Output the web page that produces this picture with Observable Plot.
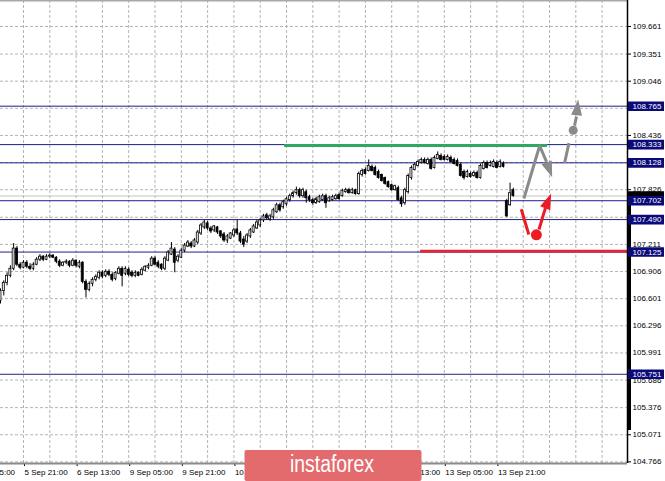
<!DOCTYPE html>
<html><head><meta charset="utf-8">
<script src="https://cdn.jsdelivr.net/npm/d3@7"></script>
<script src="https://cdn.jsdelivr.net/npm/@observablehq/plot@0.6"></script>
<style>html,body{margin:0;padding:0;background:#fff;} #chart svg{display:block}</style>
</head><body><div id="chart"></div>
<script>
// H1 candles, index 0 = first visible bar
const opens=[
106.575,106.688,106.779,106.858,106.937,107.164,106.983,106.949,107.005,106.960,
106.937,106.983,107.039,107.073,107.039,107.073,107.085,107.062,107.017,106.971,
107.005,107.017,106.971,107.028,106.960,107.005,106.790,106.700,106.768,106.813,
106.836,106.892,106.858,106.903,106.869,106.824,106.881,106.937,106.881,106.926,
106.892,106.858,106.892,106.869,106.915,106.949,106.971,107.051,107.005,106.983,
106.937,107.028,107.096,107.153,107.028,107.062,107.141,107.187,107.221,107.187,
107.232,107.334,107.402,107.447,107.390,107.368,107.402,107.357,107.323,107.255,
107.277,107.311,107.379,107.334,107.266,107.243,107.300,107.345,107.390,107.424,
107.481,107.538,107.492,107.515,107.572,107.651,107.628,107.662,107.708,107.753,
107.787,107.821,107.753,107.798,107.742,107.708,107.674,107.685,107.708,107.753,
107.696,107.708,107.719,107.764,107.753,107.798,107.821,107.787,107.821,107.776,
107.991,108.047,108.036,108.081,108.070,108.025,107.991,107.957,107.911,107.877,
107.821,107.843,107.730,107.674,107.798,107.957,108.047,108.093,108.127,108.161,
108.115,108.161,108.070,108.172,108.206,108.195,108.161,108.183,108.161,108.149,
108.104,108.025,107.968,108.002,107.979,108.013,107.957,108.059,108.127,108.093,
108.081,108.127,108.081,108.115,107.696,107.651,107.821];
const highs=[
106.711,106.802,106.892,106.971,107.221,107.187,107.005,107.028,107.028,106.994,
107.005,107.062,107.096,107.085,107.096,107.107,107.096,107.073,107.039,107.017,
107.039,107.028,107.051,107.039,107.028,107.017,106.813,106.790,106.836,106.869,
106.915,106.915,106.926,106.926,106.892,106.903,106.960,106.960,106.960,106.949,
106.915,106.915,106.903,106.949,106.971,106.994,107.073,107.073,107.028,106.994,
107.073,107.141,107.232,107.175,107.096,107.164,107.221,107.255,107.243,107.277,
107.368,107.447,107.481,107.470,107.413,107.424,107.413,107.368,107.345,107.323,
107.345,107.390,107.481,107.357,107.300,107.334,107.390,107.436,107.481,107.504,
107.549,107.560,107.549,107.617,107.674,107.674,107.708,107.742,107.776,107.810,
107.855,107.843,107.843,107.821,107.764,107.730,107.742,107.764,107.776,107.776,
107.753,107.764,107.776,107.787,107.832,107.843,107.843,107.843,107.832,108.025,
108.059,108.070,108.161,108.104,108.093,108.047,108.002,107.968,107.923,107.889,
107.877,107.866,107.753,107.843,108.002,108.093,108.127,108.161,108.183,108.183,
108.183,108.183,108.206,108.251,108.229,108.217,108.217,108.206,108.183,108.172,
108.127,108.047,108.047,108.025,108.036,108.036,108.115,108.149,108.149,108.149,
108.161,108.149,108.161,108.138,107.719,107.900,107.843];
const lows=[
106.541,106.632,106.745,106.836,106.915,106.960,106.926,106.937,106.937,106.915,
106.915,106.971,107.017,107.017,107.028,107.051,107.051,106.994,106.949,106.960,
106.983,106.949,106.960,106.949,106.937,106.768,106.609,106.677,106.734,106.790,
106.813,106.824,106.836,106.847,106.790,106.802,106.869,106.734,106.858,106.847,
106.836,106.836,106.847,106.858,106.903,106.926,106.960,106.971,106.937,106.915,
106.915,107.017,107.085,106.892,107.005,107.051,107.119,107.175,107.164,107.175,
107.209,107.311,107.379,107.368,107.334,107.345,107.323,107.277,107.232,107.221,
107.266,107.289,107.311,107.221,107.175,107.221,107.277,107.334,107.379,107.402,
107.458,107.481,107.470,107.492,107.560,107.572,107.606,107.640,107.685,107.730,
107.764,107.730,107.730,107.674,107.685,107.651,107.662,107.674,107.696,107.617,
107.685,107.696,107.708,107.708,107.742,107.787,107.776,107.776,107.764,107.764,
107.968,107.991,108.025,108.025,107.979,107.945,107.911,107.877,107.843,107.810,
107.810,107.696,107.628,107.651,107.776,107.934,108.036,108.081,108.115,108.115,
108.104,108.047,108.059,108.161,108.149,108.149,108.149,108.127,108.104,108.081,
107.968,107.934,107.957,107.957,107.968,107.945,107.945,108.047,108.059,108.081,
108.070,108.059,108.070,108.070,107.515,107.640,107.742];
const closes=[
106.688,106.779,106.858,106.937,107.164,106.983,106.949,107.005,106.960,106.937,
106.983,107.039,107.073,107.039,107.073,107.085,107.062,107.017,106.971,107.005,
107.017,106.971,107.028,106.971,107.005,106.790,106.700,106.768,106.813,106.847,
106.892,106.847,106.903,106.869,106.813,106.892,106.937,106.858,106.937,106.869,
106.858,106.892,106.858,106.926,106.960,106.971,107.051,106.983,106.960,106.937,
107.051,107.119,107.164,107.005,107.073,107.141,107.198,107.232,107.187,107.255,
107.345,107.424,107.458,107.390,107.357,107.413,107.345,107.300,107.255,107.300,
107.334,107.368,107.334,107.243,107.209,107.311,107.368,107.413,107.458,107.481,
107.526,107.504,107.526,107.594,107.651,107.594,107.685,107.719,107.753,107.787,
107.821,107.753,107.821,107.730,107.708,107.674,107.719,107.742,107.753,107.674,
107.730,107.742,107.753,107.719,107.810,107.821,107.787,107.821,107.776,108.002,
108.036,108.002,108.093,108.036,107.991,107.957,107.923,107.889,107.855,107.821,
107.866,107.708,107.662,107.821,107.979,108.070,108.104,108.138,108.161,108.127,
108.161,108.059,108.183,108.217,108.161,108.161,108.195,108.138,108.115,108.093,
107.979,107.957,108.025,107.968,108.013,107.957,108.093,108.127,108.070,108.127,
108.138,108.070,108.138,108.081,107.526,107.787,107.755];

// time axis (bar index of each label)
const timeTickIndex=[-9,7,23,39,55,71,87,103,119,135,151];
const timeTickLabels=["5 Sep 05:00","5 Sep 21:00","6 Sep 13:00","9 Sep 05:00","9 Sep 21:00","10 Sep 13:00","11 Sep 05:00","11 Sep 21:00","12 Sep 13:00","13 Sep 05:00","13 Sep 21:00"];
// price axis: grid levels, and the labels that are not hidden behind level boxes
const priceGrid=[109.661,109.351,109.046,108.741,108.436,108.131,107.826,107.516,107.211,106.906,106.601,106.296,105.991,105.686,105.376,105.071,104.766];
const priceLabels=[109.661,109.351,109.046,108.436,107.826,107.211,106.906,106.601,106.296,105.991,105.686,105.376,105.071,104.766];
const levels=[108.765,108.333,108.128,107.702,107.490,107.125,105.751];
const bid=107.755;
const greenLevel=[{p:108.323,from:86.4,to:166.4}];
const redLevel=[{p:107.133,from:127.8,to:190.72}];
// forecast drawings (bar index, price)
const grayPaths=[
  {g:"a",i:159.2,p:107.727},{g:"a",i:164.0,p:108.320},{g:"a",i:166.1,p:108.138},
  {g:"b",i:171.6,p:108.127},{g:"b",i:172.9,p:108.350},
  {g:"c",i:174.6,p:108.546},{g:"c",i:175.2,p:108.648}];
const redPaths=[
  {g:"d",i:158.4,p:107.606},{g:"d",i:160.7,p:107.323},
  {g:"e",i:163.8,p:107.379},{g:"e",i:165.8,p:107.628}];
const grayDots=[{i:174.2,p:108.493}];
const redDots=[{i:163.0,p:107.319}];
const grayHeads=[{i:167.8,p:107.965,fi:166.1,fp:108.138},{i:175.7,p:108.841,fi:175.2,fp:108.648}];
const redHeads=[{i:167.5,p:107.784,fi:165.8,fp:107.628}];

const bars=opens.map((o,i)=>({i,open:o,high:highs[i],low:lows[i],close:closes[i]}));
const xOpts={domain:[0,190.72],range:[0,627]};
const yOpts={domain:[104.748,109.953],range:[463,0]};
const sx=Plot.scale({x:xOpts}), sy=Plot.scale({y:yOpts});
function withRot(arr){return arr.map(d=>{const dx=sx.apply(d.i)-sx.apply(d.fi);const dy=sy.apply(d.p)-sy.apply(d.fp);return {...d,rot:Math.atan2(dx,-dy)*180/Math.PI};});}
const headSym={draw(c){c.moveTo(0,0);c.lineTo(-5.5,16);c.lineTo(5.5,16);c.closePath();}};
const boxSym={draw(c){c.rect(-18,-4.8,36,9.6);}};
const labMap=new Map(timeTickIndex.map((t,k)=>[t,timeTickLabels[k]]));
const navy="#1e1e8c", boxNavy="#0a0a78", gray="#8a8a8a", red="#ec1c24";

const chart=Plot.plot({
  width:665,height:481,marginLeft:0,marginRight:38,marginTop:0,marginBottom:18,
  x:xOpts,y:yOpts,
  style:{fontFamily:"Liberation Sans, Arial, sans-serif",fontSize:"8px",background:"white",color:"black",overflow:"visible"},
  marks:[
    Plot.gridY(priceGrid,{stroke:"#b4b4b4",strokeOpacity:1,strokeDasharray:"3,2"}),
    Plot.gridX(d3.range(-1,190,8),{stroke:"#b4b4b4",strokeOpacity:1,strokeDasharray:"3,2"}),
    Plot.ruleY([bid],{stroke:"#c4c4c4",strokeWidth:1}),
    Plot.ruleY(levels,{stroke:navy,strokeWidth:1}),
    Plot.ruleY(greenLevel,{y:"p",x1:"from",x2:"to",stroke:"#2fa863",strokeWidth:3}),
    Plot.ruleY(redLevel,{y:"p",x1:"from",x2:"to",stroke:"#e0283a",strokeWidth:3}),
    Plot.ruleX(bars,{x:"i",y1:"low",y2:"high",stroke:"black",strokeWidth:1}),
    Plot.rect(bars,{filter:d=>d.close>=d.open,x1:d=>d.i-0.3,x2:d=>d.i+0.3,y1:"open",y2:"close",fill:"white",stroke:"black",strokeWidth:0.8}),
    Plot.rect(bars,{filter:d=>d.close<d.open,x1:d=>d.i-0.3,x2:d=>d.i+0.3,y1:"open",y2:"close",fill:"black",stroke:"black",strokeWidth:0.8}),
    Plot.line(grayPaths,{x:"i",y:"p",z:"g",stroke:gray,strokeWidth:3,strokeLinecap:"butt",strokeLinejoin:"miter"}),
    Plot.line(redPaths,{x:"i",y:"p",z:"g",stroke:red,strokeWidth:3,strokeLinecap:"butt"}),
    Plot.dot(grayDots,{x:"i",y:"p",r:4.5,fill:gray,stroke:"none"}),
    Plot.dot(redDots,{x:"i",y:"p",r:5.5,fill:red,stroke:"none"}),
    Plot.dot(withRot(grayHeads),{x:"i",y:"p",rotate:"rot",symbol:headSym,fill:gray,stroke:"none"}),
    Plot.dot(withRot(redHeads),{x:"i",y:"p",rotate:"rot",symbol:headSym,fill:red,stroke:"none"}),
    Plot.axisY(priceLabels,{anchor:"right",tickFormat:d=>d.toFixed(3),tickSize:3,tickPadding:2,label:null,fontSize:8}),
    Plot.axisX(timeTickIndex,{anchor:"bottom",tickFormat:d=>labMap.get(d),textAnchor:"start",tickSize:3,tickPadding:3,dx:1,label:null,fontSize:8}),
    Plot.ruleY([104.748],{stroke:"#8a8a8a",strokeWidth:2}),
    Plot.ruleY([109.953],{stroke:"#a8a8a8",strokeWidth:2}),
    Plot.ruleX([190.72],{stroke:"black",strokeWidth:1.5}),
    Plot.ruleX([{x:190.72,a:107.795,b:105.119}],{x:"x",y1:"a",y2:"b",stroke:"black",strokeWidth:4,dx:1.5}),
    Plot.dot([bid],{y:d=>d,frameAnchor:"right",dx:18.5,symbol:boxSym,fill:"black",stroke:"none"}),
    Plot.dot(levels,{y:d=>d,frameAnchor:"right",dx:18.5,symbol:boxSym,fill:boxNavy,stroke:"none"}),
    Plot.text(levels,{y:d=>d,text:d=>d.toFixed(3),frameAnchor:"right",dx:5,textAnchor:"start",fill:"white",fontSize:8})
  ]
});
const svg=d3.select(chart);
svg.append("rect").attr("x",244.5).attr("y",450).attr("width",177).attr("height",31).attr("rx",2).attr("fill","#e36b6e");
svg.append("text").attr("x",332).attr("y",472).attr("text-anchor","middle").attr("fill","white")
  .attr("font-family","Liberation Sans, Arial, sans-serif").attr("font-size",23)
  .attr("textLength",84).attr("lengthAdjust","spacingAndGlyphs").text("instaforex");
document.getElementById("chart").appendChild(chart);
</script></body></html>
